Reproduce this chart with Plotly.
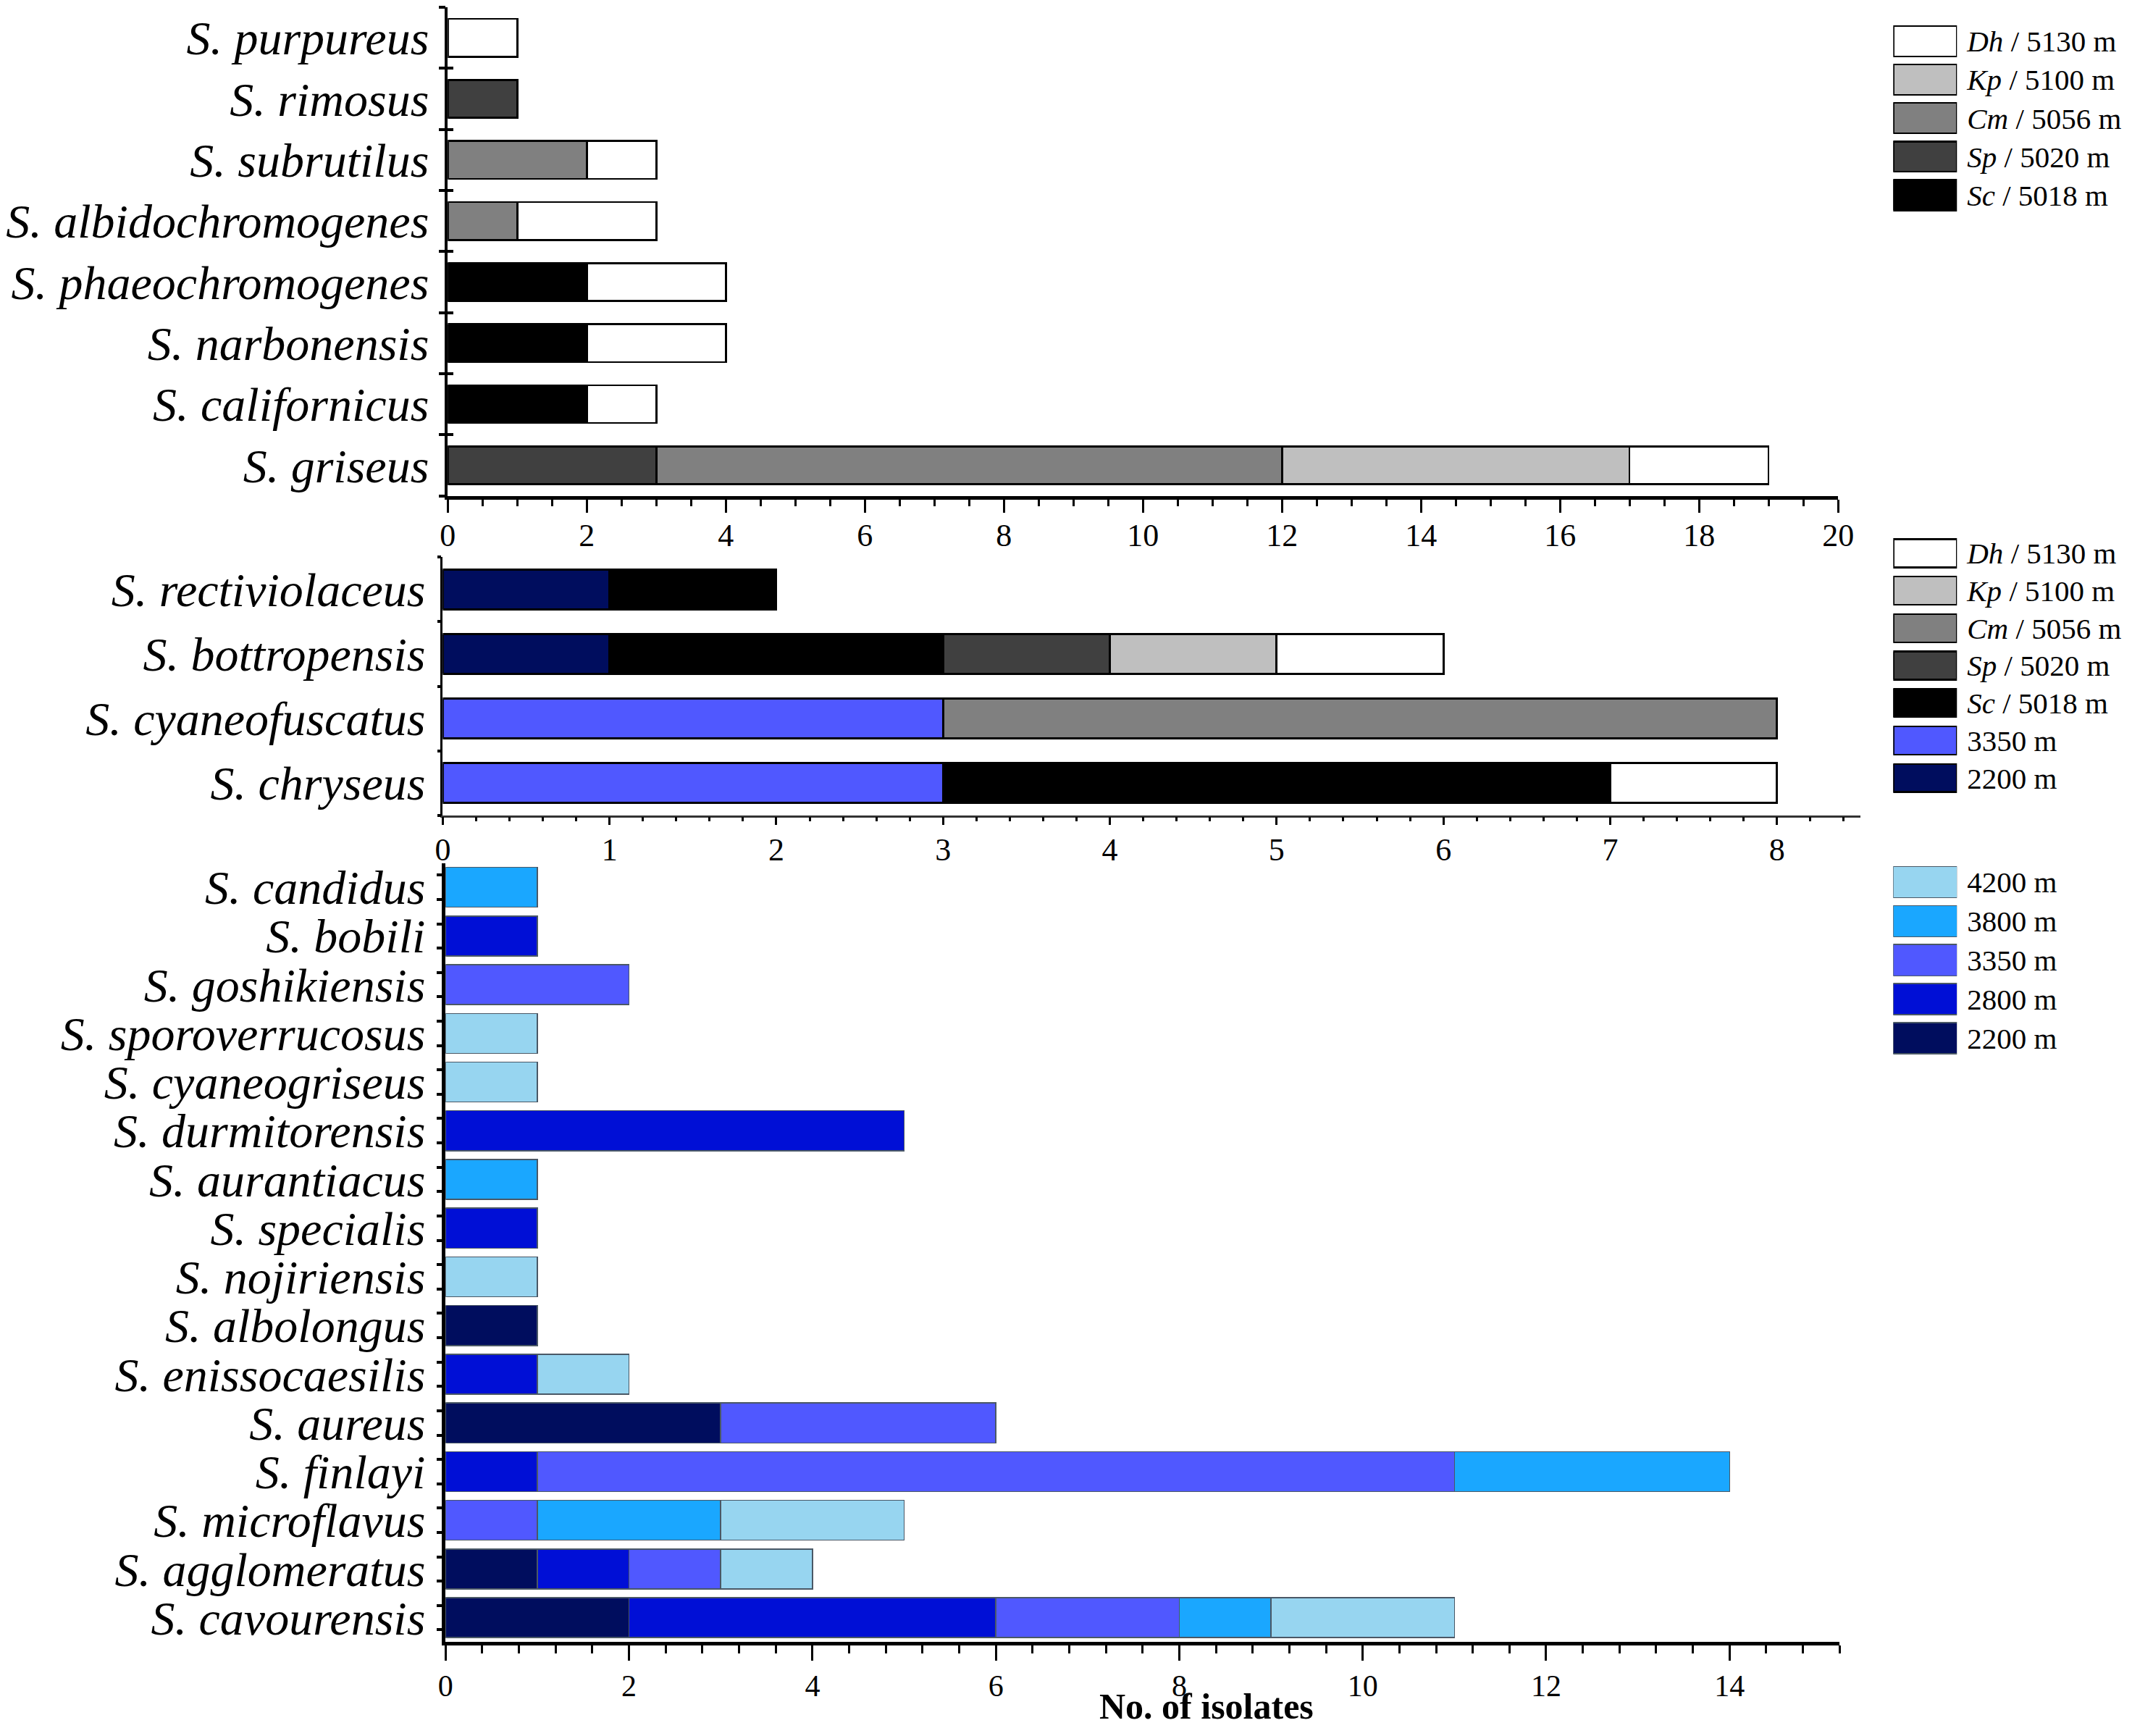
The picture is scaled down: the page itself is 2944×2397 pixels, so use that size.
import plotly.graph_objects as go

# --- data -------------------------------------------------------------
top_species = ["S. purpureus", "S. rimosus", "S. subrutilus", "S. albidochromogenes",
               "S. phaeochromogenes", "S. narbonensis", "S. californicus", "S. griseus"]
top_sc = [0, 0, 0, 0, 2, 2, 2, 0]
top_sp = [0, 1, 0, 0, 0, 0, 0, 3]
top_cm = [0, 0, 2, 1, 0, 0, 0, 9]
top_kp = [0, 0, 0, 0, 0, 0, 0, 5]
top_dh = [1, 0, 1, 2, 2, 2, 1, 2]

mid_species = ["S. rectiviolaceus", "S. bottropensis", "S. cyaneofuscatus", "S. chryseus"]
mid_2200 = [1, 1, 0, 0]
mid_3350 = [0, 0, 3, 3]
mid_sc = [1, 2, 0, 4]
mid_sp = [0, 1, 0, 0]
mid_cm = [0, 0, 5, 0]
mid_kp = [0, 1, 0, 0]
mid_dh = [0, 1, 0, 1]

bot_species = ["S. candidus", "S. bobili", "S. goshikiensis", "S. sporoverrucosus",
               "S. cyaneogriseus", "S. durmitorensis", "S. aurantiacus", "S. specialis",
               "S. nojiriensis", "S. albolongus", "S. enissocaesilis", "S. aureus",
               "S. finlayi", "S. microflavus", "S. agglomeratus", "S. cavourensis"]
bot_2200 = [0, 0, 0, 0, 0, 0, 0, 0, 0, 1, 0, 3, 0, 0, 1, 2]
bot_2800 = [0, 1, 0, 0, 0, 5, 0, 1, 0, 0, 1, 0, 1, 0, 1, 4]
bot_3350 = [0, 0, 2, 0, 0, 0, 0, 0, 0, 0, 0, 3, 10, 1, 1, 2]
bot_3800 = [1, 0, 0, 0, 0, 0, 1, 0, 0, 0, 0, 0, 3, 2, 0, 1]
bot_4200 = [0, 0, 0, 1, 1, 0, 0, 0, 1, 0, 1, 0, 0, 2, 1, 2]

names = {
    "dh": "<i>Dh</i> / 5130 m", "kp": "<i>Kp</i> / 5100 m", "cm": "<i>Cm</i> / 5056 m",
    "sp": "<i>Sp</i> / 5020 m", "sc": "<i>Sc</i> / 5018 m",
    "4200": "4200 m", "3800": "3800 m", "3350": "3350 m", "2800": "2800 m", "2200": "2200 m",
}
colors = {
    "dh": "#FFFFFF", "kp": "#BFBFBF", "cm": "#808080", "sp": "#404040", "sc": "#000000",
    "4200": "#97D5F0", "3800": "#1AA7FF", "3350": "#5058FF", "2800": "#000FD6", "2200": "#000D5E",
}
top_legend = ["dh", "kp", "cm", "sp", "sc"]
mid_legend = ["dh", "kp", "cm", "sp", "sc", "3350", "2200"]
bot_legend = ["4200", "3800", "3350", "2800", "2200"]

FONT = "Liberation Serif"
# page is 2944x2397, the html body keeps an 8px margin
PAD = 8
W, H = 2944 - 2 * PAD, 2397 - 2 * PAD
KX = 1.006  # small horizontal stretch about the centre, seen in the renders


def X(px):
    return (1472 + (px - 1472) * KX - PAD) / W


def Y(py):
    return min(1.0, 1 - (py - PAD) / H)


def nz(vals):
    return [v if v else None for v in vals]


fig = go.Figure()

# top panel
for key, vals in [("sc", top_sc), ("sp", top_sp), ("cm", top_cm), ("kp", top_kp), ("dh", top_dh)]:
    fig.add_trace(go.Bar(x=nz(vals), y=top_species, orientation="h", width=0.62,
                         marker=dict(color=colors[key], line=dict(color="black", width=2.5)),
                         xaxis="x", yaxis="y", showlegend=False))

# middle panel
for key, vals in [("2200", mid_2200), ("3350", mid_3350), ("sc", mid_sc), ("sp", mid_sp),
                  ("cm", mid_cm), ("kp", mid_kp), ("dh", mid_dh)]:
    fig.add_trace(go.Bar(x=nz(vals), y=mid_species, orientation="h", width=0.61,
                         marker=dict(color=colors[key], line=dict(color="black", width=3)),
                         xaxis="x2", yaxis="y2", showlegend=False))

# bottom panel
for key, vals in [("2200", bot_2200), ("2800", bot_2800), ("3350", bot_3350),
                  ("3800", bot_3800), ("4200", bot_4200)]:
    fig.add_trace(go.Bar(x=nz(vals), y=bot_species, orientation="h", width=0.82,
                         marker=dict(color=colors[key], line=dict(color="#4A5866", width=1.5)),
                         xaxis="x3", yaxis="y3", showlegend=False))

# legend boxes drawn as small bar panels
for keys, ax, lc, lw, wd in [(top_legend, "4", "black", 2.5, 0.79),
                              (mid_legend, "5", "black", 2.5, 0.75),
                              (bot_legend, "6", "#4A5866", 1.5, 0.8)]:
    labels = [names[k] for k in keys]
    fig.add_trace(go.Bar(x=[1] * len(keys), y=labels, orientation="h", width=wd,
                         marker=dict(color=[colors[k] for k in keys], line=dict(color=lc, width=lw)),
                         xaxis="x" + ax, yaxis="y" + ax, showlegend=False, hoverinfo="skip"))

# empty traces so the extra tick-only axes get drawn
fig.add_trace(go.Scatter(x=[], y=[], xaxis="x3", yaxis="y7", showlegend=False))
fig.add_trace(go.Scatter(x=[], y=[], xaxis="x", yaxis="y8", showlegend=False))

tickfont = dict(family=FONT, size=44, color="black")
legfont = dict(family=FONT, size=41, color="black")
catfont = dict(family=FONT, size=66, color="black", style="italic")


def xax(domain, anchor, rng, dtick, minor, lw, tl, mtl, standoff, fsize=44, lcolor="black"):
    return dict(domain=domain, anchor=anchor, range=rng, dtick=dtick, tick0=0,
                showline=True, linecolor=lcolor, linewidth=lw, showgrid=False, zeroline=False,
                ticks="outside", ticklen=tl, tickwidth=3, tickcolor="black",
                minor=dict(dtick=minor, ticks="outside", ticklen=mtl, tickwidth=2.5, tickcolor="black",
                           showgrid=False),
                tickfont=dict(tickfont, size=fsize), ticklabelstandoff=standoff)


def yax(domain, anchor, cats, lw, tl, standoff, ticks="outside"):
    return dict(domain=domain, anchor=anchor, type="category", categoryorder="array",
                categoryarray=cats, autorange="reversed", tickmode="array",
                tickvals=cats, ticktext=cats, showline=True, linecolor="black",
                linewidth=lw, showgrid=False, zeroline=False, ticks=ticks, ticklen=tl,
                tickwidth=4, tickcolor="black", tickson="boundaries", tickfont=catfont,
                ticklabelstandoff=standoff)


def tick_axis(over, anchor, n, vals, ticks, tl, tw):
    return dict(overlaying=over, anchor=anchor, range=[n - 0.5, -0.5], tickmode="array",
                tickvals=vals, ticks=ticks, ticklen=tl, tickwidth=tw, tickcolor="black",
                showticklabels=False, showline=False, showgrid=False, zeroline=False)


def legx(domain, anchor):
    return dict(domain=domain, anchor=anchor, range=[0, 1], visible=False)


def legy(domain, anchor, keys):
    labels = [names[k] for k in keys]
    return dict(domain=domain, anchor=anchor, type="category", categoryorder="array",
                categoryarray=labels, autorange="reversed", tickmode="array",
                tickvals=labels, ticktext=labels, side="right", showline=False,
                showgrid=False, zeroline=False, ticks="", tickfont=legfont, ticklabelstandoff=13)


LEGX = [X(2624), X(2713)]
n_bot = len(bot_species)
n_top = len(top_species)
bot_tick_pos = [i + d for i in range(n_bot) for d in (-0.25, 0.25)]
top_tick_pos = [i - 0.5 for i in range(n_top + 1)]

fig.update_layout(
    width=W, height=H, barmode="stack",
    margin=dict(l=0, r=0, t=0, b=0),
    paper_bgcolor="white", plot_bgcolor="white",
    font=dict(family=FONT, color="black"),
    xaxis=xax([X(604), X(2547)], "y", [0, 20], 2, 0.5, 5, 18, 9, -6),
    yaxis=yax([Y(684), Y(6)], "x", top_species, 3.5, 9, 9),
    xaxis2=xax([X(597), X(2578)], "y2", [0, 8.5], 1, 0.2, 2.5, 11, 6, -4, lcolor="#333333"),
    yaxis2=yax([Y(1126), Y(769)], "x2", mid_species, 2.5, 5, 8),
    xaxis3=xax([X(601), X(2549)], "y3", [0, 15.2], 2, 0.4, 5, 21, 11, -2, fsize=42),
    yaxis3=yax([Y(2270), Y(1192)], "x3", bot_species, 4.5, 11, 10, ticks=""),
    yaxis7=tick_axis("y3", "x3", n_bot, bot_tick_pos, "outside", 11, 4),
    yaxis8=tick_axis("y", "x", n_top, top_tick_pos, "inside", 8, 4),
    xaxis4=legx(LEGX, "y4"),
    yaxis4=legy([Y(294.5), Y(28.5)], "x4", top_legend),
    xaxis5=legx(LEGX, "y5"),
    yaxis5=legy([Y(1100.4), Y(737.6)], "x5", mid_legend),
    xaxis6=legx(LEGX, "y6"),
    yaxis6=legy([Y(1461.5), Y(1191.5)], "x6", bot_legend),
    annotations=[dict(text="<b>No. of isolates</b>", xref="paper", yref="paper",
                      x=X(1664), y=0, xanchor="center", yanchor="bottom", showarrow=False,
                      font=dict(family=FONT, size=50, color="black"))],
)

fig.write_html("out.html")
